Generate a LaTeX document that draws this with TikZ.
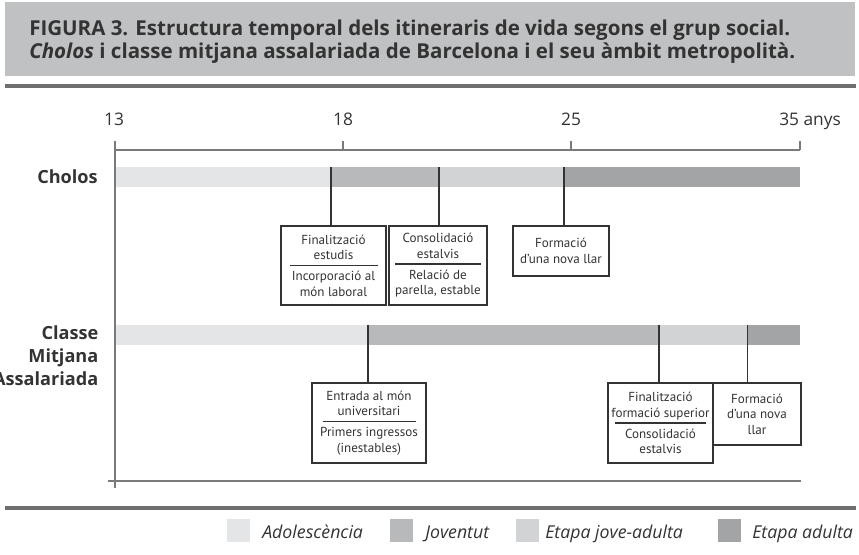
\documentclass[tikz,border=0pt]{standalone}
\usepackage{fontspec}
\setmainfont{Open Sans}
\newfontfamily\boxfont{PT Sans}
\definecolor{ado}{HTML}{E4E5E6}
\definecolor{jov}{HTML}{B8B9BA}
\definecolor{jad}{HTML}{D2D3D4}
\definecolor{adu}{HTML}{A3A4A6}
\definecolor{ink}{HTML}{333333}
\definecolor{axisc}{HTML}{7A7A7A}
\definecolor{titlebg}{HTML}{C0C1C3}
\definecolor{rulec}{HTML}{6E6F71}
\newcommand\evsep[1]{\\[-6.7pt]\rule{#1}{1.2pt}\\[-0.7pt]}
\begin{document}
\begin{tikzpicture}[x=0.75pt,y=-0.75pt,
  pxsize/.style 2 args={minimum width=#1*0.75pt, minimum height=#2*0.75pt},
  evbox/.style={draw=ink, line width=1.5pt, inner sep=0pt, anchor=north west,
    align=center, text=ink, font=\boxfont\fontsize{9.8}{11.6}\selectfont},
  link/.style={draw=ink, line width=1.4pt},
  axisline/.style={draw=axisc, line width=1.1pt},
  heavyrule/.style={draw=rulec, line width=2.3pt},
  swatch/.style={inner sep=0pt, minimum width=17.25pt, minimum height=17.25pt, anchor=north west},
  legtext/.style={anchor=base west, inner sep=0pt, text=ink, font=\fontsize{13.3}{16}\selectfont\itshape},
  ticklab/.style={anchor=base, inner sep=0pt, text=ink, font=\fontsize{13}{15}\selectfont},
  rowlab/.style={anchor=north east, inner sep=0pt, align=right, text=ink, font=\fontsize{13.6}{17.6}\selectfont\bfseries}
]
\useasboundingbox (0,0) rectangle (859,554);
% title
\fill[titlebg] (5,2) rectangle (855,76);
\node[anchor=north west, inner sep=0pt, align=left, text=ink,
  font=\fontsize{15.4}{17.25}\selectfont\bfseries] (title) at (29,20)
  {FIGURA 3. Estructura temporal dels itineraris de vida segons el grup social.\\
   \textit{Cholos} i classe mitjana assalariada de Barcelona i el seu àmbit metropolità.};
\draw[heavyrule] (5,86) -- (856,86);
\draw[heavyrule] (5,508) -- (856,508);
% axis
\draw[axisline] (115,150) -- (800,150);
\draw[axisline] (343,141) -- (343,150);
\draw[axisline] (571,141) -- (571,150);
\draw[axisline] (800,141) -- (800,150);
\draw[axisline] (115,141) -- (115,488);
\draw[axisline] (108,481) -- (801,481);
\node[ticklab] (t13) at (114,125) {13};
\node[ticklab] (t18) at (343,125) {18};
\node[ticklab] (t25) at (571,125) {25};
\node[ticklab, anchor=base west] (t35) at (779,125) {35 anys};
% row labels
\node[rowlab] (rcholos) at (98,169) {Cholos};
\node[rowlab] (rclasse) at (98.6,325) {Classe\\Mitjana\\Assalariada};
% Cholos bar
\fill[ado] (116,167) rectangle (331,187);
\fill[jov] (331,167) rectangle (439,187);
\fill[jad] (439,167) rectangle (564,187);
\fill[adu] (564,167) rectangle (800,187);
% Classe bar
\fill[ado] (116,325) rectangle (368,345);
\fill[jov] (368,325) rectangle (659,345);
\fill[jad] (659,325) rectangle (747.5,345);
\fill[adu] (747.5,325) rectangle (800,345);
% Cholos boxes
\node[evbox, pxsize={105}{79}] (a1) at (280,225)
  {Finalització\\estudis\evsep{66pt}Incorporació al\\món laboral};
\node[evbox, pxsize={98}{79}] (a2) at (388,225)
  {Consolidació\\estalvis\evsep{64.5pt}Relació de\\parella, estable};
\node[evbox, pxsize={96}{50}] (a3) at (512,225)
  {Formació\\d’una nova llar};
% Classe boxes
\node[evbox, pxsize={114}{80}] (b1) at (311,382)
  {Entrada al món\\universitari\evsep{69.75pt}Primers ingressos\\(inestables)};
\node[evbox, pxsize={105}{80}] (b2) at (607,382)
  {Finalització\\formació superior\evsep{68.25pt}Consolidació\\estalvis};
\node[evbox, pxsize={88}{62}] (b3) at (712,382)
  {Formació\\d’una nova\\llar};
% connectors
\coordinate (ca1) at (331,167);
\coordinate (ca2) at (439,167);
\coordinate (ca3) at (564,167);
\coordinate (cb1) at (368,325);
\coordinate (cb2) at (659,325);
\coordinate (cb3) at (747.5,325);
\draw[link] (ca1) -- (ca1 |- a1.north);
\draw[link] (ca2) -- (ca2 |- a2.north);
\draw[link] (ca3) -- (ca3 |- a3.north);
\draw[link] (cb1) -- (cb1 |- b1.north);
\draw[link] (cb2) -- (cb2 |- b2.north);
\draw[link] (cb3) -- (cb3 |- b3.north);
% legend
\node[swatch, fill=ado] (s1) at (227,519) {};
\node[legtext] (l1) at (262,538) {Adolescència};
\node[swatch, fill=jov] (s2) at (390,519) {};
\node[legtext] (l2) at (425,538) {Joventut};
\node[swatch, fill=jad] (s3) at (516,519) {};
\node[legtext] (l3) at (545,538) {Etapa jove-adulta};
\node[swatch, fill=adu] (s4) at (718,519) {};
\node[legtext] (l4) at (752,538) {Etapa adulta};
\end{tikzpicture}
\end{document}
